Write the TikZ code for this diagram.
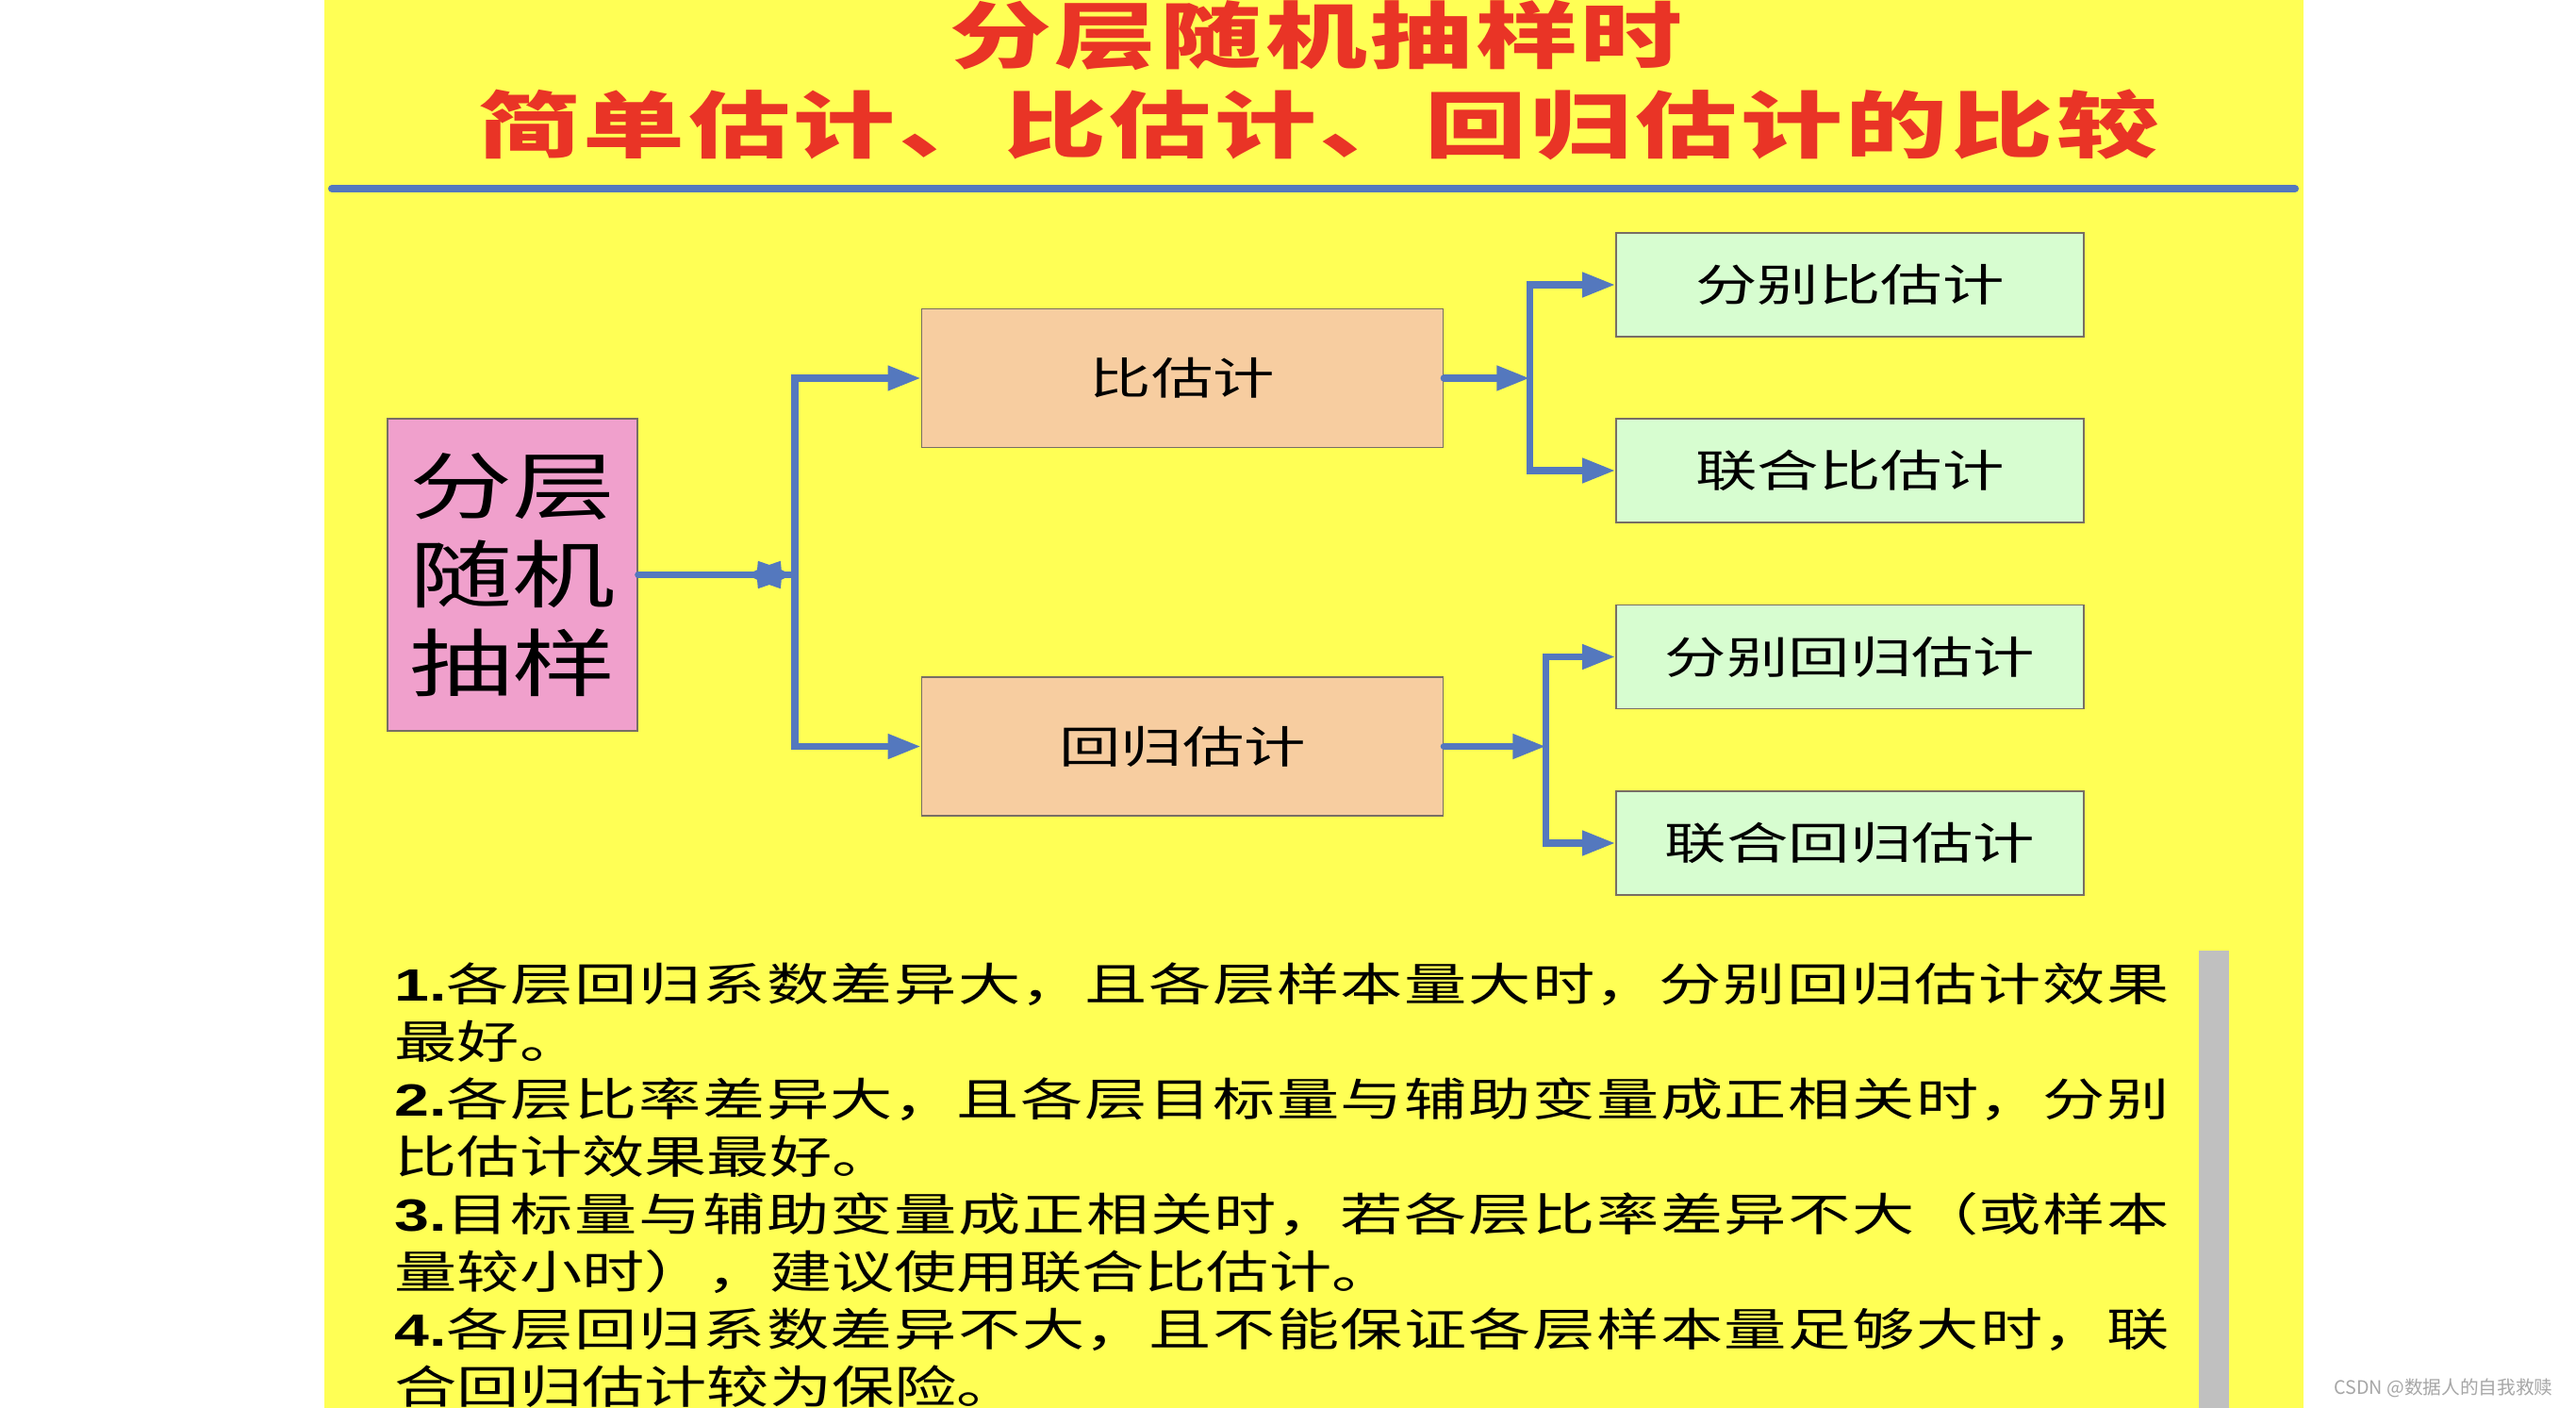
\documentclass[tikz,border=0pt]{standalone}
\usepackage{fontspec}
\usepackage{tikz}
\usetikzlibrary{arrows.meta,positioning}
\usepackage{xcolor}

\newfontfamily\cjkfont{Noto Sans CJK SC}[FakeStretch=1.4]
\newfontfamily\bodyfont{Noto Sans CJK SC}[FakeStretch=1.38]
\newfontfamily\titlefont{Noto Sans CJK SC}[FakeStretch=1.4,LetterSpace=5]
\newfontfamily\numfont{Liberation Sans}[FakeStretch=1.38]
\newfontfamily\markfont{Noto Sans CJK SC}
\XeTeXlinebreaklocale "zh"
\XeTeXlinebreakskip=0pt plus 2pt
\hbadness=10000

\definecolor{slideyellow}{RGB}{255,255,85}
\definecolor{flowblue}{RGB}{84,120,190}
\definecolor{titlered}{RGB}{233,52,38}
\definecolor{pinkfill}{RGB}{240,160,204}
\definecolor{peachfill}{RGB}{247,205,160}
\definecolor{mintfill}{RGB}{215,253,208}
\definecolor{edgegray}{RGB}{120,110,100}
\definecolor{bargray}{RGB}{192,192,192}

\begin{document}
\begin{tikzpicture}[>={Triangle[length=3.5mm,width=2.5mm]},line cap=round,
  box/.style={draw=edgegray,line width=0.5pt,inner sep=0pt},
  estbox/.style={box,fill=peachfill,minimum width=5.53cm,minimum height=1.47cm,font=\cjkfont\fontsize{13.3}{16}\selectfont},
  subbox/.style={box,fill=mintfill,minimum width=4.96cm,minimum height=1.10cm,font=\cjkfont\fontsize{13.3}{16}\selectfont},
  flow/.style={draw=flowblue,line width=2.1pt},
  titletext/.style={text=titlered,font=\titlefont\bfseries\fontsize{21.9}{26}\selectfont}]
\useasboundingbox (0,0) rectangle (27.32,-14.93);
\fill[white] (0,0) rectangle (27.32,-14.93);
\fill[slideyellow] (3.44,0) rectangle (24.43,-14.93);

% title
\node[titletext] (title1) at (13.96,-0.375) {分层随机抽样时};
\node[titletext] (title2) at (13.98,-1.32) {简单估计、比估计、回归估计的比较};
\draw[flowblue,line width=2.3pt] (3.52,-2.0) -- (24.34,-2.0);

% boxes
\node[box,fill=pinkfill,minimum width=2.65cm,minimum height=3.31cm,align=center,
  font=\cjkfont\fontsize{22.2}{26.7}\selectfont] (strat) at (5.435,-6.095) {分层\\随机\\抽样};
\node[estbox] (ratio) at (12.54,-4.01) {比估计};
\node[estbox] (regr) at (12.54,-7.915) {回归估计};
\node[subbox] (sepratio) at (19.62,-3.02) {分别比估计};
\node[subbox] (comratio) at (19.62,-4.99) {联合比估计};
\node[subbox] (sepreg) at (19.62,-6.965) {分别回归估计};
\node[subbox] (comreg) at (19.62,-8.94) {联合回归估计};

\coordinate[right=1.66cm of strat.east] (split1);
\coordinate[left=0.27cm of split1] (knot);
\coordinate[right=0.91cm of ratio.east] (split2);
\coordinate[right=1.08cm of regr.east] (split3);

% connectors
\draw[flow] (strat.east) -- (split1);
\fill[flowblue,shift={(knot)},xscale=0.24,yscale=0.17]
  (0:1) -- (30:0.62) -- (60:1) -- (90:0.62) -- (120:1) -- (150:0.62) -- (180:1)
  -- (210:0.62) -- (240:1) -- (270:0.62) -- (300:1) -- (330:0.62) -- cycle;
\draw[flow,->] (split1) |- (ratio.west);
\draw[flow,->] (split1) |- (regr.west);
\draw[flow,->] (ratio.east) -- (split2);
\draw[flow,->] (split2) |- (sepratio.west);
\draw[flow,->] (split2) |- (comratio.west);
\draw[flow,->] (regr.east) -- (split3);
\draw[flow,->] (split3) |- (sepreg.west);
\draw[flow,->] (split3) |- (comreg.west);

% notes
\node[anchor=north west,inner sep=0pt,text width=18.82cm,align=justify,
  font=\bodyfont\fontsize{13.66}{17.36}\selectfont] (notes) at (4.18,-10.20) {\parindent=0pt
{\numfont\bfseries 1.}各层回归系数差异大，且各层样本量大时，分别回归估计效果\linebreak 最好。\par
{\numfont\bfseries 2.}各层比率差异大，且各层目标量与辅助变量成正相关时，分别\linebreak 比估计效果最好。\par
{\numfont\bfseries 3.}目标量与辅助变量成正相关时，若各层比率差异不大（或样本\linebreak 量较小时），建议使用联合比估计。\par
{\numfont\bfseries 4.}各层回归系数差异不大，且不能保证各层样本量足够大时，联\linebreak 合回归估计较为保险。};
\fill[bargray] (23.32,-10.08) rectangle (23.64,-14.93);
\node[anchor=east,text=black!35,font=\markfont\fontsize{5.6}{7}\selectfont] (mark) at (27.20,-14.72) {CSDN @数据人的自我救赎};
\end{tikzpicture}
\end{document}
